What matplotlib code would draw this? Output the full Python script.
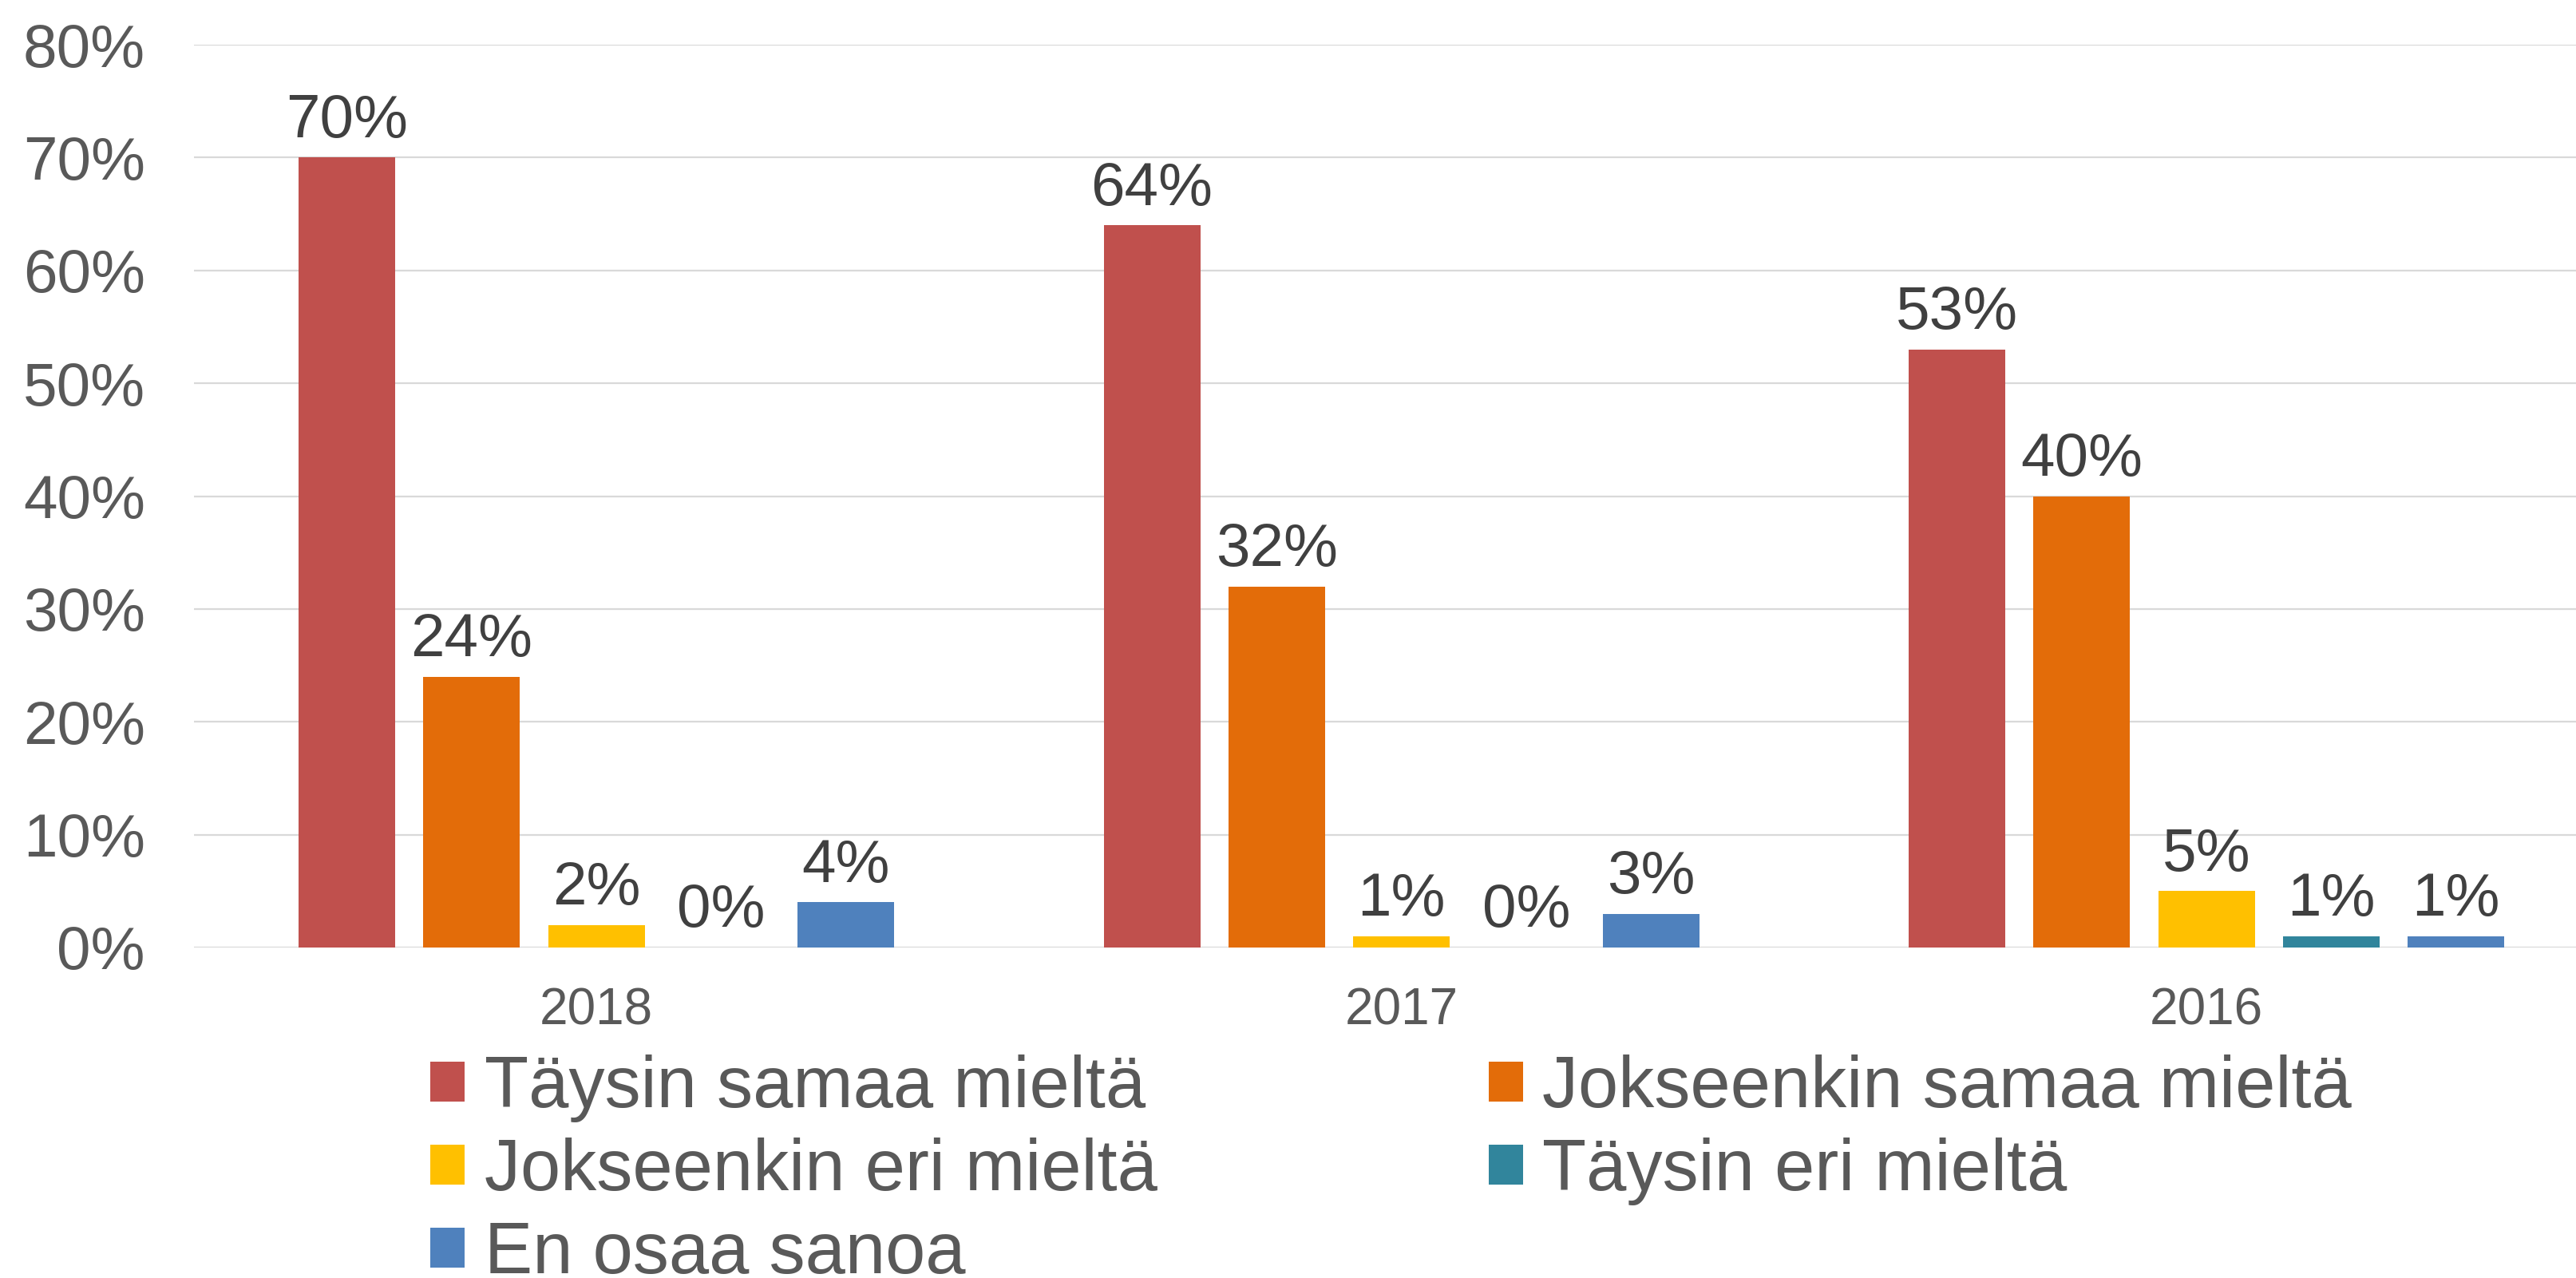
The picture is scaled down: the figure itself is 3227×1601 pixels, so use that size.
import numpy as np
import matplotlib.pyplot as plt

years = ['2018', '2017', '2016']
series_names = ['Täysin samaa mieltä', 'Jokseenkin samaa mieltä',
                'Jokseenkin eri mieltä', 'Täysin eri mieltä', 'En osaa sanoa']
taysin_samaa = [70, 64, 53]
jokseenkin_samaa = [24, 32, 40]
jokseenkin_eri = [2, 1, 5]
taysin_eri = [0, 0, 1]
en_osaa = [4, 3, 1]
colors = ['#C0504D', '#E36C09', '#FFC000', '#31859C', '#4F81BD']

series = [taysin_samaa, jokseenkin_samaa, jokseenkin_eri, taysin_eri, en_osaa]

plt.rcParams['font.family'] = ['Liberation Sans', 'DejaVu Sans']

fig = plt.figure(figsize=(32.27, 16.01), dpi=100)
ax = fig.add_axes([0.0753, 0.2586, 0.9375, 0.7064])

x = np.arange(len(years))
bar_w = 0.12
step = 0.155
handles = []
for i, (vals, name, col) in enumerate(zip(series, series_names, colors)):
    pos = x + (i - 2) * step
    bars = ax.bar(pos, np.array(vals) / 100.0, width=bar_w, color=col, label=name, zorder=3)
    handles.append(bars)
    for p, v in zip(pos, vals):
        ax.annotate('{}%'.format(v), (p, v / 100.0), xytext=(0, 7), textcoords='offset points',
                    ha='center', va='bottom', fontsize=55, color='#404040')

ax.set_xlim(-0.5, 2.5)
ax.set_ylim(0, 0.8)
ax.set_yticks(np.arange(0, 0.81, 0.1))
ax.set_yticklabels(['{}%'.format(int(round(t * 100))) for t in np.arange(0, 0.81, 0.1)])
ax.set_xticks(x)
ax.set_xticklabels(years)
ax.tick_params(axis='y', length=0, labelsize=55, labelcolor='#595959', pad=44)
ax.tick_params(axis='x', length=0, labelsize=46, labelcolor='#595959', pad=36)
ax.yaxis.grid(True, color='#D9D9D9', linewidth=1.6, zorder=0)
ax.set_axisbelow(True)
for s in ax.spines.values():
    s.set_visible(False)

# legend filled row by row like the original
order = [0, 2, 4, 1, 3]
fig.legend([handles[k] for k in order], [series_names[k] for k in order],
           ncol=2, loc='upper left', bbox_to_anchor=(0.167, 0.175),
           frameon=False, fontsize=65, labelcolor='#595959',
           handlelength=0.48, handleheight=0.48, handletextpad=0.27,
           columnspacing=4.6, labelspacing=0.21, borderpad=0, borderaxespad=0)

fig.savefig('out.png', dpi=100)
